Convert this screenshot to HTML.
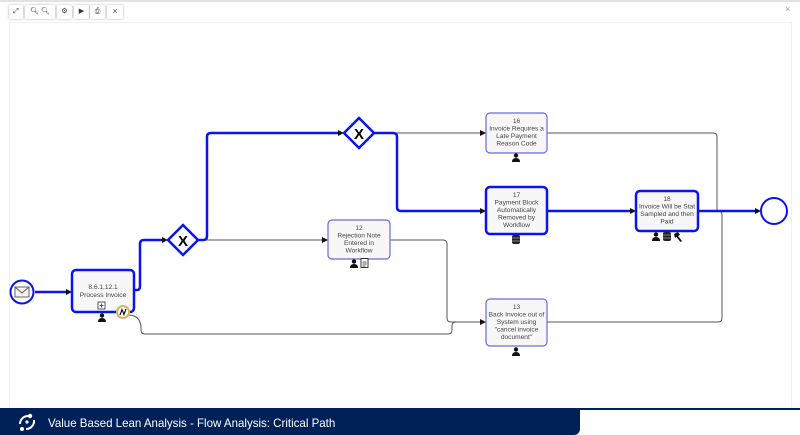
<!DOCTYPE html>
<html><head><meta charset="utf-8"><style>
html,body{margin:0;padding:0;background:#fff;width:800px;height:435px;overflow:hidden;font-family:"Liberation Sans",sans-serif;}
.top{position:absolute;left:0;top:0;width:800px;height:2px;background:#e2e2e2;}
.btn{position:absolute;top:5px;height:14px;background:#fff;border-radius:2px;box-shadow:0 0 2px rgba(0,0,0,0.35);font-size:7px;color:#333;text-align:center;line-height:14px;}
.panel{position:absolute;left:9px;top:22px;width:781px;height:386px;border:1px solid #f0f0f0;border-bottom:none;}
.foot{position:absolute;left:0;top:409px;width:580px;height:26px;background:#002157;border-bottom-right-radius:6px;}
.footline{position:absolute;left:0;top:408px;width:800px;height:2px;background:#002157;}
.foot span{position:absolute;left:48px;top:7px;color:#fff;font-size:12px;transform:scaleX(0.96);transform-origin:0 0;white-space:nowrap;}
svg{position:absolute;left:0;top:0;}
</style></head><body>
<div class="top"></div>
<div class="btn" style="left:9px;width:14px;">&#x2922;</div>
<div class="btn" style="left:25px;width:30px;">&#x1F50D;&#xFE0E; &#x1F50D;&#xFE0E;</div>
<div class="btn" style="left:57px;width:15px;">&#x2699;</div>
<div class="btn" style="left:74px;width:15px;">&#x25B6;</div>
<div class="btn" style="left:90px;width:15px;">&#x2399;</div>
<div class="btn" style="left:107px;width:16px;">&#x2A2F;</div>
<div style="position:absolute;left:785px;top:4px;font-size:9px;color:#999;">&#x00D7;</div>
<div class="panel"></div>
<div class="footline"></div>
<div class="foot"><span>Value Based Lean Analysis - Flow Analysis: Critical Path</span></div>
<svg width="800" height="435" viewBox="0 0 800 435" xmlns="http://www.w3.org/2000/svg">
<!-- footer logo -->
<g fill="#fff">
<circle cx="30" cy="416" r="2.2"/><circle cx="22" cy="429" r="2"/>
<path d="M20,424 a8,8 0 0 1 8,-8" stroke="#fff" stroke-width="2" fill="none"/>
<path d="M34,420 a8,8 0 0 1 -8,9" stroke="#fff" stroke-width="2" fill="none"/>
<circle cx="27" cy="422" r="1.6"/>
</g>
<!-- grey flows -->
<g fill="none" stroke="#555" stroke-width="1">
<path d="M198,240 L322,240"/>
<path d="M374,133 L480,133"/>
<path d="M547,133 L713,133 Q717,133 717,137 L717,211"/>
<path d="M547,322 L718,322 Q722,322 722,318 L722,215 Q722,211 718,211"/>
<path d="M390,240 L443,240 Q447,240 447,244 L447,318 Q447,322 451,322 L480,322"/>
<path d="M128,315 Q136,315 139,320 Q141,324 141,328 L141,330 Q141,334 145,334 L448,334 Q452,334 452,330 L452,326 Q452,322 456,322"/>
</g>
<!-- blue flows -->
<g fill="none" stroke="#0a14ee" stroke-width="2.5">
<path d="M35,292 L68,292" />
<path d="M134,290 L137,290 Q140,290 140,286 L140,244 Q140,240 144,240 L164,240"/>
<path d="M198,240 L203,240 Q207,240 207,236 L207,137 Q207,133 211,133 L340,133"/>
<path d="M374,133 L393,133 Q397,133 397,137 L397,207 Q397,211 401,211 L482,211"/>
<path d="M547,211 L632,211"/>
<path d="M698,211 L756,211"/>
</g>
<g fill="#111">
<path d="M72,292 l-6,-3 l0,6z"/>
<path d="M168,240 l-6,-3 l0,6z"/>
<path d="M344,133 l-6,-3 l0,6z"/>
<path d="M486,211 l-6,-3 l0,6z"/>
<path d="M636,211 l-6,-3 l0,6z"/>
<path d="M761,211 l-6,-3 l0,6z"/>
<path d="M328,240 l-6,-3 l0,6z"/>
<path d="M486,133 l-6,-3 l0,6z"/>
<path d="M486,322 l-6,-3 l0,6z"/>
</g>
<!-- start event -->
<circle cx="22" cy="292" r="11.5" fill="#fff" stroke="#0a14ee" stroke-width="2"/>
<rect x="15" y="287" width="14" height="10" fill="#f4f4f4" stroke="#555" stroke-width="0.9"/>
<path d="M15,287 L22,293 L29,287" fill="none" stroke="#555" stroke-width="0.9"/>
<!-- end event -->
<circle cx="774" cy="211" r="13" fill="#fff" stroke="#0a14ee" stroke-width="2"/>
<!-- gateways -->
<g stroke="#0a14ee" stroke-width="2.5" fill="#fff">
<path d="M183,225 L198,240 L183,255 L168,240 z"/>
<path d="M359,118 L374,133 L359,148 L344,133 z"/>
</g>
<g font-family="Liberation Sans, sans-serif" font-weight="bold" font-size="15" text-anchor="middle" fill="#000">
<text x="183" y="246">X</text>
<text x="359" y="139">X</text>
</g>
<!-- tasks -->
<g fill="#f7f7f7">
<rect x="72" y="270" width="62" height="42" rx="4" stroke="#0a14ee" stroke-width="2.5"/>
<rect x="328" y="220" width="62" height="39" rx="4" stroke="#6a6ae0" stroke-width="1.2"/>
<rect x="486" y="113" width="61" height="40" rx="4" stroke="#6a6ae0" stroke-width="1.2"/>
<rect x="486" y="187" width="61" height="47" rx="4" stroke="#0a14ee" stroke-width="2.5"/>
<rect x="636" y="191" width="62" height="40" rx="4" stroke="#0a14ee" stroke-width="2.5"/>
<rect x="486" y="299" width="61" height="47" rx="4" stroke="#6a6ae0" stroke-width="1.2"/>
</g>
<g font-family="Liberation Sans, sans-serif" font-size="6.6" fill="#444" text-anchor="middle">
<text x="103" y="289">8.6.1.12.1</text>
<text x="103" y="297">Process Invoice</text>
<text x="359" y="230">12</text>
<text x="359" y="237.5">Rejection Note</text>
<text x="359" y="245">Entered in</text>
<text x="359" y="252.5">Workflow</text>
<text x="516.5" y="123">16</text>
<text x="516.5" y="130.5">Invoice Requires a</text>
<text x="516.5" y="138">Late Payment</text>
<text x="516.5" y="145.5">Reason Code</text>
<text x="516.5" y="197">17</text>
<text x="516.5" y="204.5">Payment Block</text>
<text x="516.5" y="212">Automatically</text>
<text x="516.5" y="219.5">Removed by</text>
<text x="516.5" y="227">Workflow</text>
<text x="667" y="201">18</text>
<text x="667" y="208.5">Invoice Will be Stat</text>
<text x="667" y="216">Sampled and then</text>
<text x="667" y="223.5">Paid</text>
<text x="516.5" y="309">13</text>
<text x="516.5" y="316.5">Back Invoice out of</text>
<text x="516.5" y="324">System using</text>
<text x="516.5" y="331.5">"cancel invoice</text>
<text x="516.5" y="339">document"</text>
</g>
<!-- subprocess marker -->
<rect x="98" y="302" width="7" height="7" fill="#fff" stroke="#333" stroke-width="0.8"/>
<path d="M101.5,303.5 v4 M99.5,305.5 h4" stroke="#333" stroke-width="0.8"/>
<!-- person icons -->
<g fill="#111">
<g transform="translate(102,318)"><circle cx="0" cy="-2.5" r="2.2"/><path d="M-4,4 Q-4,0 0,0 Q4,0 4,4 z"/></g>
<g transform="translate(354,264)"><circle cx="0" cy="-2.5" r="2.2"/><path d="M-4,4 Q-4,0 0,0 Q4,0 4,4 z"/></g>
<g transform="translate(516,158)"><circle cx="0" cy="-2.5" r="2.2"/><path d="M-4,4 Q-4,0 0,0 Q4,0 4,4 z"/></g>
<g transform="translate(516,352)"><circle cx="0" cy="-2.5" r="2.2"/><path d="M-4,4 Q-4,0 0,0 Q4,0 4,4 z"/></g>
<g transform="translate(656,237)"><circle cx="0" cy="-2.5" r="2.2"/><path d="M-4,4 Q-4,0 0,0 Q4,0 4,4 z"/></g>
</g>
<!-- document icon -->
<rect x="361" y="258.5" width="7" height="9" fill="#fff" stroke="#222" stroke-width="0.9"/>
<path d="M362.5,262 h4 M362.5,264 h4 M362.5,266 h3" stroke="#222" stroke-width="0.7"/>
<!-- database icons -->
<g fill="#222">
<rect x="512" y="235" width="8" height="9" rx="2"/>
<rect x="663" y="232" width="8" height="9" rx="2"/>
</g>
<g stroke="#ddd" stroke-width="0.6"><path d="M512,238 h8 M512,241 h8 M663,235 h8 M663,238 h8"/></g>
<!-- hammer -->
<path d="M674,234 l4,-2 l2,3 l-2,1 l4,5 l-1.5,1 l-4,-5 l-1.5,1z" fill="#111"/>
<!-- boundary event -->
<circle cx="123" cy="312" r="6" fill="#fff" stroke="#d8b460" stroke-width="2"/>
<path d="M120,315 L122,309.5 L124,314.5 L126,309" fill="none" stroke="#111" stroke-width="1.2"/>
</svg>
</body></html>
